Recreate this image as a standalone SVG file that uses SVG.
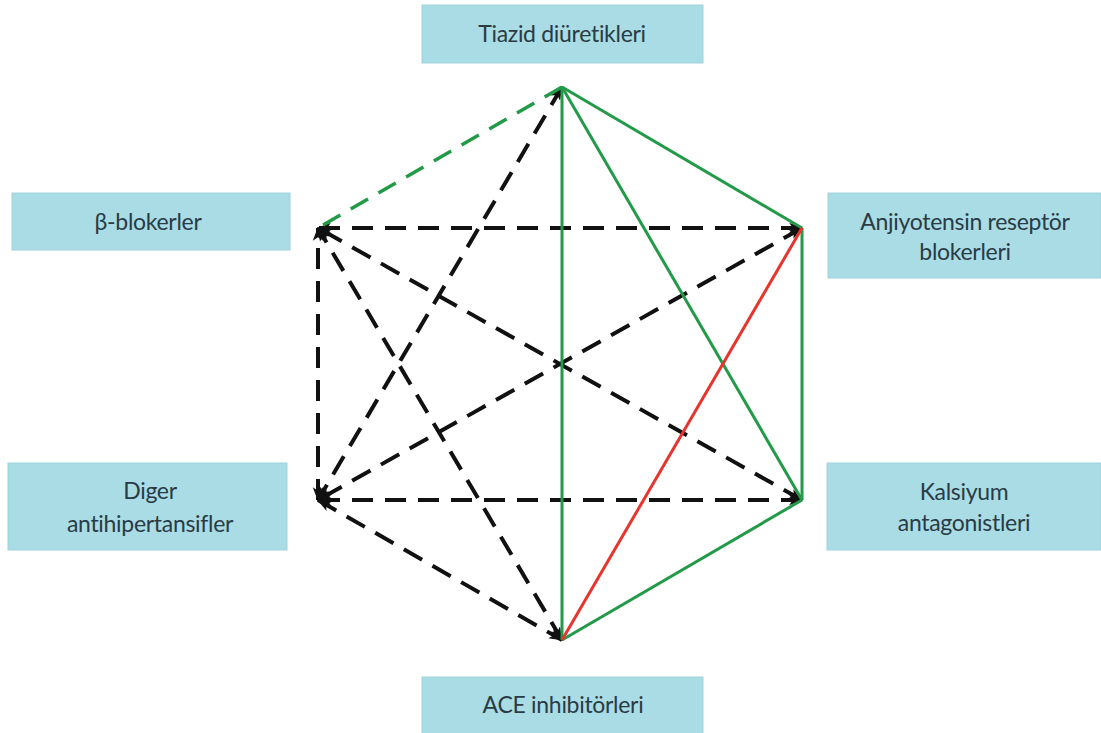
<svg xmlns="http://www.w3.org/2000/svg" width="1101" height="733" viewBox="0 0 1101 733">
<defs>
<style>
.box{fill:#a9dce4;stroke:#9fd3dc;stroke-width:1}
.lbl{font-family:Lato,"Open Sans","Liberation Sans",sans-serif;font-size:23px;fill:#2a3b46;text-anchor:middle;letter-spacing:-0.3px}
.g{stroke:#229a48;stroke-width:3;fill:none}
.gd{stroke:#229a48;stroke-width:3.5;fill:none;stroke-dasharray:20 12}
.r{stroke:#e8342c;stroke-width:3;fill:none}
.bd{stroke:#111;stroke-width:4;fill:none;stroke-dasharray:21 12;marker-start:url(#ah);marker-end:url(#ah)}
</style>
<marker id="ah" viewBox="0 0 12 10" refX="11" refY="5" markerWidth="14" markerHeight="12" markerUnits="userSpaceOnUse" orient="auto-start-reverse">
<path d="M0,0.5 L12,5 L0,9.5 L3,5 Z" fill="#111"/>
</marker>
</defs>
<rect width="1101" height="733" fill="#ffffff"/>
<g id="connectors">
<line class="bd" x1="802" y1="228" x2="318" y2="228"/>
<line class="bd" x1="318" y1="500" x2="318" y2="228"/>
<line class="bd" x1="802" y1="500" x2="318" y2="228"/>
<line class="bd" x1="562" y1="640" x2="318" y2="228"/>
<line class="bd" x1="802" y1="500" x2="318" y2="500"/>
<line class="bd" x1="802" y1="228" x2="318" y2="500"/>
<line class="bd" x1="562" y1="87" x2="318" y2="500"/>
<line class="bd" x1="318" y1="500" x2="562" y2="640"/>
<line class="gd" x1="562" y1="87" x2="318" y2="228"/>
<line class="g" x1="562" y1="87" x2="562" y2="640"/>
<line class="g" x1="562" y1="87" x2="802" y2="228"/>
<line class="g" x1="562" y1="87" x2="802" y2="500"/>
<line class="g" x1="802" y1="228" x2="802" y2="500"/>
<line class="g" x1="802" y1="500" x2="562" y2="640"/>
<line class="r" x1="802" y1="228" x2="562" y2="640"/>
</g>
<g id="tiazid">
<rect class="box" x="422" y="5" width="281" height="58"/>
<text class="lbl" x="562" y="42">Tiazid diüretikleri</text>
</g>
<g id="beta">
<rect class="box" x="12" y="193" width="278" height="57"/>
<text class="lbl" x="148" y="230">β-blokerler</text>
</g>
<g id="arb">
<rect class="box" x="828" y="193" width="273" height="85"/>
<text class="lbl" x="965" y="230">Anjiyotensin reseptör</text>
<text class="lbl" x="965" y="260">blokerleri</text>
</g>
<g id="diger">
<rect class="box" x="8" y="463" width="279" height="87"/>
<text class="lbl" x="150" y="499">Diger</text>
<text class="lbl" x="150" y="532">antihipertansifler</text>
</g>
<g id="kalsiyum">
<rect class="box" x="827" y="463" width="274" height="87"/>
<text class="lbl" x="964" y="500">Kalsiyum</text>
<text class="lbl" x="964" y="531">antagonistleri</text>
</g>
<g id="ace">
<rect class="box" x="422" y="677" width="281" height="58"/>
<text class="lbl" x="563" y="713">ACE inhibitörleri</text>
</g>
</svg>
